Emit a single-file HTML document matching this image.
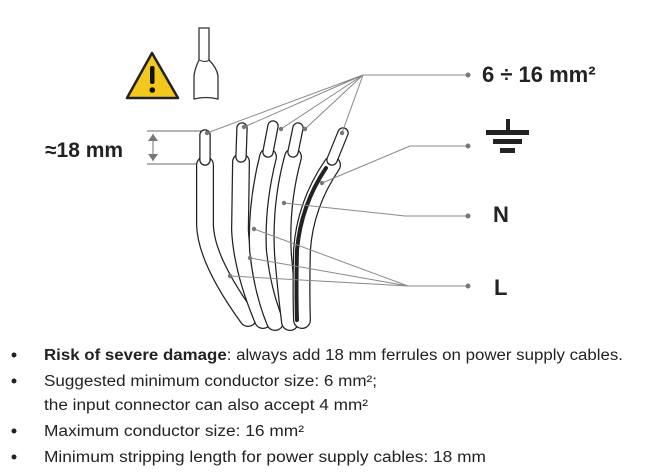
<!DOCTYPE html>
<html><head><meta charset="utf-8"><style>
html,body{margin:0;padding:0;background:#fff;width:647px;height:475px;overflow:hidden}
svg{display:block}
</style></head><body>
<svg width="647" height="475" viewBox="0 0 647 475" xmlns="http://www.w3.org/2000/svg" font-family="Liberation Sans, sans-serif">
<!-- warning -->
<path d="M152 53 L178 98 L127 98 Z" fill="#f2c81e" stroke="#222" stroke-width="2.5" stroke-linejoin="round"/>
<rect x="150" y="66" width="4.5" height="18" rx="2" fill="#111"/>
<circle cx="152.3" cy="90" r="2.8" fill="#111"/>
<!-- ferrule icon -->
<path d="M199 28 L209 28 L209 60 Q217 68 218 76 L218 99 Q206 96 194 99 L194 76 Q195 68 199 60 Z" fill="#fff" stroke="#333" stroke-width="1.3"/>
<path d="M199 60 Q206 63 209 60" fill="none" stroke="#333" stroke-width="1"/>
<!-- dimension -->
<g stroke="#888" stroke-width="1.2" fill="none">
<line x1="147" y1="131" x2="205" y2="131"/>
<line x1="147" y1="164" x2="205" y2="164"/>
<line x1="153" y1="134" x2="153" y2="161"/>
</g>
<path d="M148 141 L153 134 L158 141 Z M148 154 L153 161 L158 154 Z" fill="#777"/>
<text x="45" y="157" font-size="21" font-weight="bold" fill="#222">≈18 mm</text>
<!-- cables -->
<g fill="none" stroke-linecap="round">
<path d="M205 165 L205 225 Q206 260 248 318" stroke="#222" stroke-width="18"/>
<path d="M205 165 L205 225 Q206 260 248 318" stroke="#fff" stroke-width="15.5"/>
<path d="M205 135 L205 160" stroke="#222" stroke-width="11.5"/><path d="M205 135 L205 160" stroke="#fff" stroke-width="9"/>

<path d="M241 162 L240 230 Q242 270 263 320" stroke="#222" stroke-width="18"/>
<path d="M241 162 L240 230 Q242 270 263 320" stroke="#fff" stroke-width="15.5"/>
<path d="M242 128 L241 157" stroke="#222" stroke-width="11.5"/><path d="M242 128 L241 157" stroke="#fff" stroke-width="9"/>

<path d="M268 157 Q256 205 258 250 Q262 290 275 322" stroke="#222" stroke-width="18"/>
<path d="M268 157 Q256 205 258 250 Q262 290 275 322" stroke="#fff" stroke-width="15.5"/>
<path d="M273 126 L268 152" stroke="#222" stroke-width="11.5"/><path d="M273 126 L268 152" stroke="#fff" stroke-width="9"/>

<path d="M293 157 Q280 205 283 255 Q286 290 290 322" stroke="#222" stroke-width="18"/>
<path d="M293 157 Q280 205 283 255 Q286 290 290 322" stroke="#fff" stroke-width="15.5"/>
<path d="M298 128 L293 152" stroke="#222" stroke-width="11.5"/><path d="M298 128 L293 152" stroke="#fff" stroke-width="9"/>

<path d="M332 165 Q305 205 302 250 Q301 290 302 320" stroke="#222" stroke-width="18"/>
<path d="M332 165 Q305 205 302 250 Q301 290 302 320" stroke="#fff" stroke-width="15.5"/>
<path d="M326 168 Q301 205 297 250 Q296 290 297 320" stroke="#222" stroke-width="4"/>
<path d="M343 133 L332 160" stroke="#222" stroke-width="11.5"/><path d="M343 133 L332 160" stroke="#fff" stroke-width="9"/>
</g>
<!-- leaders -->
<g stroke="#888" stroke-width="1" fill="none">
<path d="M207 133 L363 75 M244 127 L363 75 M281 129 L363 75 M305 129 L363 75 M342 133 L363 75 M363 75 L468 75"/>
<path d="M322 183 L410 146 L468 146"/>
<path d="M284 203 L405 216 L468 216"/>
<path d="M254 229 L408 286 M250 258 L408 286 M230 276 L408 286 L468 286"/>
</g>
<g fill="#777">
<circle cx="207" cy="133" r="2.2"/><circle cx="244" cy="127" r="2.2"/><circle cx="281" cy="129" r="2.2"/><circle cx="305" cy="129" r="2.2"/><circle cx="342" cy="133" r="2.2"/>
<circle cx="322" cy="183" r="2.2"/><circle cx="284" cy="203" r="2.2"/><circle cx="254" cy="229" r="2.2"/><circle cx="250" cy="258" r="2.2"/><circle cx="230" cy="276" r="2.2"/>
<circle cx="468" cy="75" r="2.5"/><circle cx="468" cy="146" r="2.5"/><circle cx="468" cy="216" r="2.5"/><circle cx="468" cy="286" r="2.5"/>
</g>
<text x="482" y="82" font-size="22" font-weight="bold" fill="#222">6 ÷ 16 mm²</text>
<g fill="#222">
<rect x="506" y="119" width="4" height="13"/>
<rect x="486" y="130" width="43" height="5"/>
<rect x="493" y="139" width="29" height="5"/>
<rect x="500" y="148" width="15" height="5"/>
</g>
<text x="493" y="222" font-size="22" font-weight="bold" fill="#222">N</text>
<text x="494" y="295" font-size="22" font-weight="bold" fill="#222">L</text>
<!-- bullets -->
<g font-size="15.5" fill="#222">
<circle cx="14" cy="355" r="2.5"/><circle cx="14" cy="381" r="2.5"/><circle cx="14" cy="431" r="2.5"/><circle cx="14" cy="457" r="2.5"/>
<text x="44" y="360" textLength="579" lengthAdjust="spacingAndGlyphs"><tspan font-weight="bold">Risk of severe damage</tspan>: always add 18 mm ferrules on power supply cables.</text>
<text x="44" y="386" textLength="333" lengthAdjust="spacingAndGlyphs">Suggested minimum conductor size: 6 mm²;</text>
<text x="44" y="410" textLength="324" lengthAdjust="spacingAndGlyphs">the input connector can also accept 4 mm²</text>
<text x="44" y="436" textLength="260" lengthAdjust="spacingAndGlyphs">Maximum conductor size: 16 mm²</text>
<text x="44" y="462" textLength="442" lengthAdjust="spacingAndGlyphs">Minimum stripping length for power supply cables: 18 mm</text>
</g>
</svg>
</body></html>
